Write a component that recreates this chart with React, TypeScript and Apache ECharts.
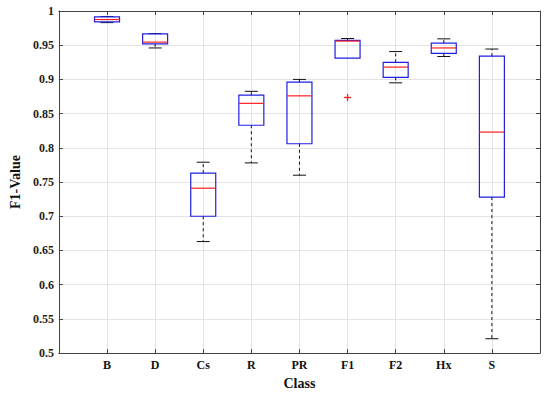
import React, { useEffect, useRef } from "react";
import * as echarts from "echarts";

const classes = ["B", "D", "Cs", "R", "PR", "F1", "F2", "Hx", "S"];
const whiskerMin = [0.983, 0.946, 0.663, 0.778, 0.76, 0.931, 0.895, 0.9335, 0.521];
const quartile1 = [0.984, 0.952, 0.7, 0.833, 0.806, 0.931, 0.903, 0.938, 0.728];
const medians = [0.9875, 0.9545, 0.741, 0.865, 0.876, 0.956, 0.918, 0.946, 0.823];
const quartile3 = [0.9914, 0.9665, 0.763, 0.877, 0.896, 0.957, 0.925, 0.953, 0.934];
const whiskerMax = [0.992, 0.967, 0.779, 0.8826, 0.9, 0.9598, 0.9407, 0.9593, 0.9444];
const outlierClass = ["F1"];
const outlierValue = [0.8736];
const yTicks = { min: 0.5, max: 1, interval: 0.05 };

const axisCategories = ["", ...classes, ""];

export default function App() {
  const ref = useRef<HTMLDivElement>(null);
  useEffect(() => {
    if (!ref.current) return;
    const chart = echarts.init(ref.current, null, { renderer: "svg" });
    const boxData = classes.map((c, i) => [
      i + 1,
      whiskerMin[i],
      quartile1[i],
      medians[i],
      quartile3[i],
      whiskerMax[i],
    ]);
    const outData = outlierClass.map((c, i) => [classes.indexOf(c) + 1, outlierValue[i]]);
    const font = "Liberation Serif";
    const gridColor = "#e3e3e3";
    const axisColor = "#444";
    const inner = (idx: number) => idx > 0 && idx < axisCategories.length - 1;
    chart.setOption({
      animation: false,
      textStyle: { fontFamily: font },
      grid: { left: 44, right: 10, top: 11, bottom: 36 },
      xAxis: [
        {
          type: "category",
          data: axisCategories,
          boundaryGap: false,
          name: "Class",
          nameLocation: "middle",
          nameGap: 19,
          nameTextStyle: { fontFamily: font, fontWeight: "bold", fontSize: 14, color: "#111" },
          axisLine: { lineStyle: { color: axisColor } },
          axisTick: { inside: true, length: 4, lineStyle: { color: axisColor }, interval: inner },
          axisLabel: { fontFamily: font, fontWeight: "bold", fontSize: 12, color: "#111", margin: 6, interval: 0 },
          splitLine: { show: true, lineStyle: { color: gridColor }, interval: inner },
        },
        {
          type: "category",
          data: axisCategories,
          boundaryGap: false,
          position: "top",
          axisLine: { lineStyle: { color: axisColor } },
          axisTick: { inside: true, length: 4, lineStyle: { color: axisColor }, interval: inner },
          axisLabel: { show: false },
          splitLine: { show: false },
        },
      ],
      yAxis: [
        {
          type: "value",
          min: yTicks.min,
          max: yTicks.max,
          interval: yTicks.interval,
          name: "F1-Value",
          nameLocation: "middle",
          nameGap: 32,
          nameTextStyle: { fontFamily: font, fontWeight: "bold", fontSize: 14, color: "#111" },
          axisLine: { show: true, lineStyle: { color: axisColor } },
          axisTick: { show: true, inside: true, length: 4, lineStyle: { color: axisColor } },
          axisLabel: { fontFamily: font, fontWeight: "bold", fontSize: 12, color: "#222", margin: 5 },
          splitLine: { show: true, lineStyle: { color: gridColor } },
        },
        {
          type: "value",
          min: yTicks.min,
          max: yTicks.max,
          interval: yTicks.interval,
          position: "right",
          axisLine: { show: true, lineStyle: { color: axisColor } },
          axisTick: { show: true, inside: true, length: 4, lineStyle: { color: axisColor } },
          axisLabel: { show: false },
          splitLine: { show: false },
        },
      ],
      series: [
        {
          type: "custom",
          xAxisIndex: 0,
          yAxisIndex: 0,
          encode: { x: 0, y: [1, 2, 3, 4, 5] },
          data: boxData,
          renderItem: (params: any, api: any) => {
            const x = api.value(0);
            const pMin = api.coord([x, api.value(1)]);
            const pQ1 = api.coord([x, api.value(2)]);
            const pMed = api.coord([x, api.value(3)]);
            const pQ3 = api.coord([x, api.value(4)]);
            const pMax = api.coord([x, api.value(5)]);
            const cx = pMed[0];
            const halfBox = 12.5;
            const halfCap = 6.5;
            const children: any[] = [];
            const dash = { stroke: "#111", fill: "none", lineWidth: 1, lineDash: [3, 3] };
            const solid = { stroke: "#111", fill: "none", lineWidth: 1 };
            if (api.value(5) > api.value(4)) {
              children.push({ type: "line", shape: { x1: cx, y1: pQ3[1], x2: cx, y2: pMax[1] }, style: dash });
              children.push({ type: "line", shape: { x1: cx - halfCap, y1: pMax[1], x2: cx + halfCap, y2: pMax[1] }, style: solid });
            }
            if (api.value(1) < api.value(2)) {
              children.push({ type: "line", shape: { x1: cx, y1: pQ1[1], x2: cx, y2: pMin[1] }, style: dash });
              children.push({ type: "line", shape: { x1: cx - halfCap, y1: pMin[1], x2: cx + halfCap, y2: pMin[1] }, style: solid });
            }
            children.push({
              type: "rect",
              shape: { x: cx - halfBox, y: pQ3[1], width: halfBox * 2, height: pQ1[1] - pQ3[1] },
              style: { fill: "none", stroke: "#2020e0", lineWidth: 1.2 },
            });
            children.push({
              type: "line",
              shape: { x1: cx - halfBox, y1: pMed[1], x2: cx + halfBox, y2: pMed[1] },
              style: { stroke: "#ff2020", fill: "none", lineWidth: 1.2 },
            });
            return { type: "group", children };
          },
          z: 3,
        },
        {
          type: "custom",
          xAxisIndex: 0,
          yAxisIndex: 0,
          encode: { x: 0, y: 1 },
          data: outData,
          renderItem: (params: any, api: any) => {
            const p = api.coord([api.value(0), api.value(1)]);
            const s = 3.5;
            const st = { stroke: "#ff1a1a", fill: "none", lineWidth: 1.3 };
            return {
              type: "group",
              children: [
                { type: "line", shape: { x1: p[0] - s, y1: p[1], x2: p[0] + s, y2: p[1] }, style: st },
                { type: "line", shape: { x1: p[0], y1: p[1] - s, x2: p[0], y2: p[1] + s }, style: st },
              ],
            };
          },
          z: 3,
        },
      ],
    });
    return () => chart.dispose();
  }, []);
  return (
    <div
      ref={ref}
      style={{ width: 550, height: 395, position: "absolute", left: 0, top: 0, background: "#fff" }}
    />
  );
}
